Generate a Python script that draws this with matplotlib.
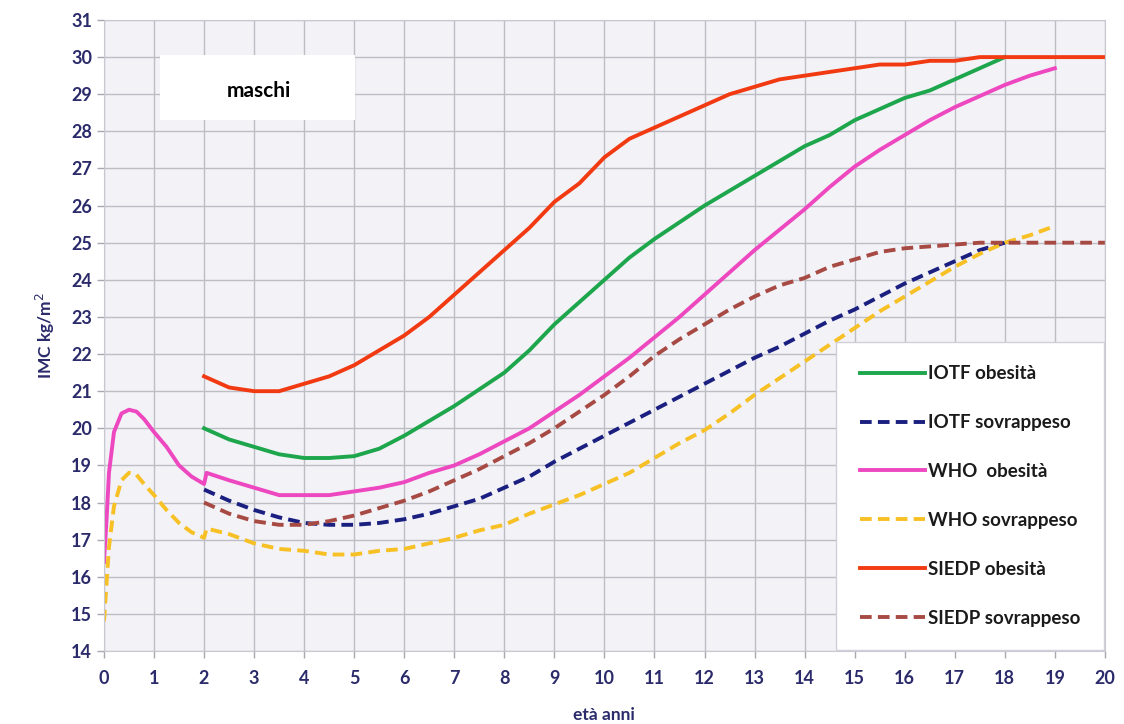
import matplotlib
matplotlib.use('Agg')
import matplotlib.pyplot as plt
import numpy as np

plt.rcParams['font.family'] = ['Lato', 'DejaVu Sans']

# età (anni) e valori IMC
age_2_20 = [2, 2.5, 3, 3.5, 4, 4.5, 5, 5.5, 6, 6.5, 7, 7.5, 8, 8.5, 9, 9.5, 10,
            10.5, 11, 11.5, 12, 12.5, 13, 13.5, 14, 14.5, 15, 15.5, 16, 16.5,
            17, 17.5, 18, 18.5, 19, 19.5, 20]
age_2_18 = age_2_20[:33]

siedp_ob = [21.4, 21.1, 21.0, 21.0, 21.2, 21.4, 21.7, 22.1, 22.5, 23.0, 23.6,
            24.2, 24.8, 25.4, 26.1, 26.6, 27.3, 27.8, 28.1, 28.4, 28.7, 29.0,
            29.2, 29.4, 29.5, 29.6, 29.7, 29.8, 29.8, 29.9, 29.9, 30.0, 30.0,
            30.0, 30.0, 30.0, 30.0]
siedp_sov = [18.0, 17.7, 17.5, 17.4, 17.4, 17.5, 17.65, 17.85, 18.05, 18.3,
             18.6, 18.9, 19.25, 19.6, 20.0, 20.45, 20.9, 21.4, 21.95, 22.4,
             22.8, 23.2, 23.55, 23.85, 24.05, 24.35, 24.55, 24.75, 24.85, 24.9,
             24.95, 25.0, 25.0, 25.0, 25.0, 25.0, 25.0]

iotf_ob = [20.0, 19.7, 19.5, 19.3, 19.2, 19.2, 19.25, 19.45, 19.8, 20.2, 20.6,
           21.05, 21.5, 22.1, 22.8, 23.4, 24.0, 24.6, 25.1, 25.55, 26.0, 26.4,
           26.8, 27.2, 27.6, 27.9, 28.3, 28.6, 28.9, 29.1, 29.4, 29.7, 30.0]
iotf_sov = [18.35, 18.05, 17.8, 17.6, 17.45, 17.4, 17.4, 17.45, 17.55, 17.7,
            17.9, 18.1, 18.4, 18.7, 19.1, 19.45, 19.8, 20.15, 20.5, 20.85, 21.2,
            21.55, 21.9, 22.2, 22.55, 22.9, 23.2, 23.55, 23.9, 24.2, 24.5, 24.8,
            25.0]

age_who = [0, 0.05, 0.1, 0.2, 0.35, 0.5, 0.65, 0.8, 1.0, 1.25, 1.5, 1.75, 2.0,
           2.05, 2.5, 3, 3.5, 4, 4.5, 5, 5.5, 6, 6.5, 7, 7.5, 8, 8.5, 9, 9.5,
           10, 10.5, 11, 11.5, 12, 12.5, 13, 13.5, 14, 14.5, 15, 15.5, 16,
           16.5, 17, 17.5, 18, 18.5, 19]
who_ob = [16.4, 17.5, 18.8, 19.9, 20.4, 20.5, 20.45, 20.25, 19.9, 19.5, 19.0,
          18.7, 18.5, 18.8, 18.6, 18.4, 18.2, 18.2, 18.2, 18.3, 18.4, 18.55,
          18.8, 19.0, 19.3, 19.65, 20.0, 20.45, 20.9, 21.4, 21.9, 22.45, 23.0,
          23.6, 24.2, 24.8, 25.35, 25.9, 26.5, 27.05, 27.5, 27.9, 28.3, 28.65,
          28.95, 29.25, 29.5, 29.7]
who_sov = [14.8, 15.8, 16.8, 17.9, 18.6, 18.8, 18.75, 18.5, 18.2, 17.8, 17.45,
           17.2, 17.05, 17.3, 17.15, 16.9, 16.75, 16.7, 16.6, 16.6, 16.7, 16.75,
           16.9, 17.05, 17.25, 17.4, 17.7, 17.95, 18.2, 18.5, 18.8, 19.2, 19.6,
           19.95, 20.4, 20.9, 21.35, 21.8, 22.25, 22.7, 23.15, 23.55, 23.95,
           24.35, 24.7, 25.0, 25.2, 25.45]

tick_col = '#2b2b6b'

fig = plt.figure(figsize=(11.24, 7.24), dpi=100)
ax = fig.add_axes([0.0925, 0.1008, 0.8905, 0.8716])
ax.set_facecolor('#f2f2f7')

lw = 2.8
ax.plot(age_2_18, iotf_ob, color='#1da64c', lw=lw, label='IOTF obesità')
ax.plot(age_2_18, iotf_sov, color='#1a1f80', lw=lw, ls=(0, (3, 1.6)), label='IOTF sovrappeso')
ax.plot(age_who, who_ob, color='#ee48c0', lw=lw, label='WHO  obesità')
ax.plot(age_who, who_sov, color='#f7c025', lw=lw, ls=(0, (3, 1.6)), label='WHO sovrappeso')
ax.plot(age_2_20, siedp_ob, color='#f23a12', lw=lw, label='SIEDP obesità')
ax.plot(age_2_20, siedp_sov, color='#a84a44', lw=lw, ls=(0, (3, 1.6)), label='SIEDP sovrappeso')

ax.set_xlim(0, 20)
ax.set_ylim(14, 31)
ax.set_xticks(range(0, 21))
ax.set_yticks(range(14, 32))
ax.grid(True, color='#bdbdc4', lw=1.0)
ax.set_axisbelow(True)
for s in ax.spines.values():
    s.set_color('#c8c8d0')
ax.tick_params(colors='#a8a8b0', length=5, width=1)
for lab in ax.get_xticklabels() + ax.get_yticklabels():
    lab.set_color(tick_col)
    lab.set_fontweight('bold')
    lab.set_fontsize(13)
ax.tick_params(axis='x', pad=9)

ax.set_xlabel('età anni', color=tick_col, fontsize=12.5, fontweight='bold', labelpad=14)
ax.set_ylabel('IMC kg/m$^2$', color=tick_col, fontsize=12.5, fontweight='bold', labelpad=10)

ax.text(3.1, 29.1, 'maschi', fontsize=15, fontweight='bold', ha='center', va='center',
        zorder=5)
ax.add_patch(plt.Rectangle((1.12, 28.3), 3.9, 1.75, facecolor='white',
                           edgecolor='none', zorder=4))

leg = ax.legend(loc='lower right', frameon=True, fancybox=False,
                handlelength=3.5, handletextpad=0.15, labelspacing=1.7,
                borderpad=1.25, borderaxespad=0.05,
                prop={'weight': 'bold', 'size': 13.5})
leg.get_frame().set_edgecolor('#d0d0d8')
leg.get_frame().set_facecolor('white')
leg.get_frame().set_alpha(1)
for t in leg.get_texts():
    t.set_color('#1a1a1a')

fig.savefig('out.png', dpi=100, facecolor='white')
